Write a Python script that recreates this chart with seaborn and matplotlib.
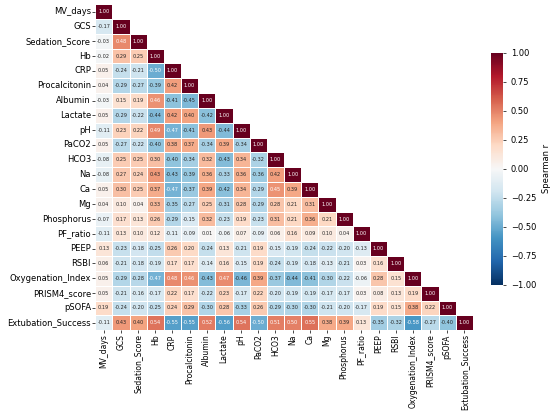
import numpy as np
import pandas as pd
import matplotlib
matplotlib.use("Agg")
import matplotlib.pyplot as plt
import seaborn as sns

# Variables (row/column order of the matrix)
variables = [
    "MV_days", "GCS", "Sedation_Score", "Hb", "CRP", "Procalcitonin", "Albumin",
    "Lactate", "pH", "PaCO2", "HCO3", "Na", "Ca", "Mg", "Phosphorus", "PF_ratio",
    "PEEP", "RSBI", "Oxygenation_Index", "PRISM4_score", "pSOFA", "Extubation_Success",
]

# Lower triangle of the Spearman matrix, read row by row
lower_rows = [
    [1.00],
    [-0.17, 1.00],
    [-0.03, 0.48, 1.00],
    [-0.02, 0.29, 0.25, 1.00],
    [0.05, -0.24, -0.21, -0.50, 1.00],
    [0.04, -0.29, -0.27, -0.39, 0.42, 1.00],
    [-0.03, 0.15, 0.19, 0.46, -0.41, -0.45, 1.00],
    [0.05, -0.29, -0.22, -0.44, 0.42, 0.40, -0.42, 1.00],
    [-0.11, 0.23, 0.22, 0.49, -0.47, -0.41, 0.43, -0.44, 1.00],
    [0.05, -0.27, -0.22, -0.40, 0.38, 0.37, -0.34, 0.39, -0.34, 1.00],
    [-0.08, 0.25, 0.25, 0.30, -0.40, -0.34, 0.32, -0.43, 0.34, -0.32, 1.00],
    [-0.08, 0.27, 0.24, 0.43, -0.43, -0.39, 0.36, -0.33, 0.36, -0.36, 0.42, 1.00],
    [0.05, 0.30, 0.25, 0.37, -0.47, -0.37, 0.39, -0.42, 0.34, -0.29, 0.45, 0.39, 1.00],
    [0.04, 0.10, 0.04, 0.33, -0.35, -0.27, 0.25, -0.31, 0.28, -0.29, 0.28, 0.21, 0.31, 1.00],
    [-0.07, 0.17, 0.13, 0.26, -0.29, -0.15, 0.32, -0.23, 0.19, -0.23, 0.31, 0.21, 0.36, 0.21, 1.00],
    [-0.11, 0.13, 0.10, 0.12, -0.11, -0.09, 0.01, -0.06, 0.07, -0.09, 0.06, 0.16, 0.09, 0.10, 0.04, 1.00],
    [0.13, -0.23, -0.18, -0.25, 0.26, 0.20, -0.24, 0.13, -0.21, 0.19, -0.15, -0.19, -0.24, -0.22, -0.20, -0.13, 1.00],
    [0.06, -0.21, -0.18, -0.19, 0.17, 0.17, -0.14, 0.16, -0.15, 0.19, -0.24, -0.19, -0.18, -0.13, -0.21, 0.03, 0.16, 1.00],
    [0.05, -0.29, -0.28, -0.47, 0.48, 0.46, -0.43, 0.47, -0.46, 0.39, -0.37, -0.44, -0.41, -0.30, -0.22, -0.06, 0.28, 0.15, 1.00],
    [0.05, -0.21, -0.16, -0.17, 0.22, 0.17, -0.22, 0.23, -0.17, 0.22, -0.20, -0.19, -0.19, -0.17, -0.17, 0.03, 0.08, 0.13, 0.19, 1.00],
    [0.19, -0.24, -0.20, -0.25, 0.24, 0.29, -0.30, 0.28, -0.33, 0.26, -0.29, -0.30, -0.30, -0.21, -0.20, -0.17, 0.19, 0.15, 0.38, 0.22, 1.00],
    [-0.11, 0.43, 0.40, 0.54, -0.55, -0.55, 0.52, -0.56, 0.54, -0.50, 0.51, 0.50, 0.55, 0.38, 0.39, 0.13, -0.35, -0.32, -0.58, -0.27, -0.40, 1.00],
]

# build the full symmetric matrix from the lower triangle
n = len(variables)
mat = np.zeros((n, n))
for i, row in enumerate(lower_rows):
    for j, v in enumerate(row):
        mat[i, j] = v
        mat[j, i] = v
corr = pd.DataFrame(mat, index=variables, columns=variables)

mask = np.triu(np.ones_like(mat, dtype=bool), k=1)

fig = plt.figure(figsize=(5.5, 4.19), dpi=100)
ax = fig.add_axes([0.173, 0.212, 0.687, 0.778])
cax = fig.add_axes([0.893, 0.32, 0.022, 0.554])

sns.heatmap(
    corr, mask=mask, cmap="RdBu_r", vmin=-1, vmax=1, center=0,
    annot=True, fmt=".2f", annot_kws={"fontsize": 3.6},
    linewidths=0.5, linecolor="white", square=False,
    ax=ax, cbar_ax=cax, cbar_kws={"label": "Spearman r"},
)

ax.tick_params(axis="x", labelsize=5.5, rotation=90, length=2, width=0.5, pad=1)
ax.tick_params(axis="y", labelsize=6.0, rotation=0, length=2, width=0.5, pad=1)
cax.tick_params(labelsize=6.0, length=2, width=0.5)
cax.yaxis.label.set_size(6.0)

fig.savefig("out.png", dpi=100)
